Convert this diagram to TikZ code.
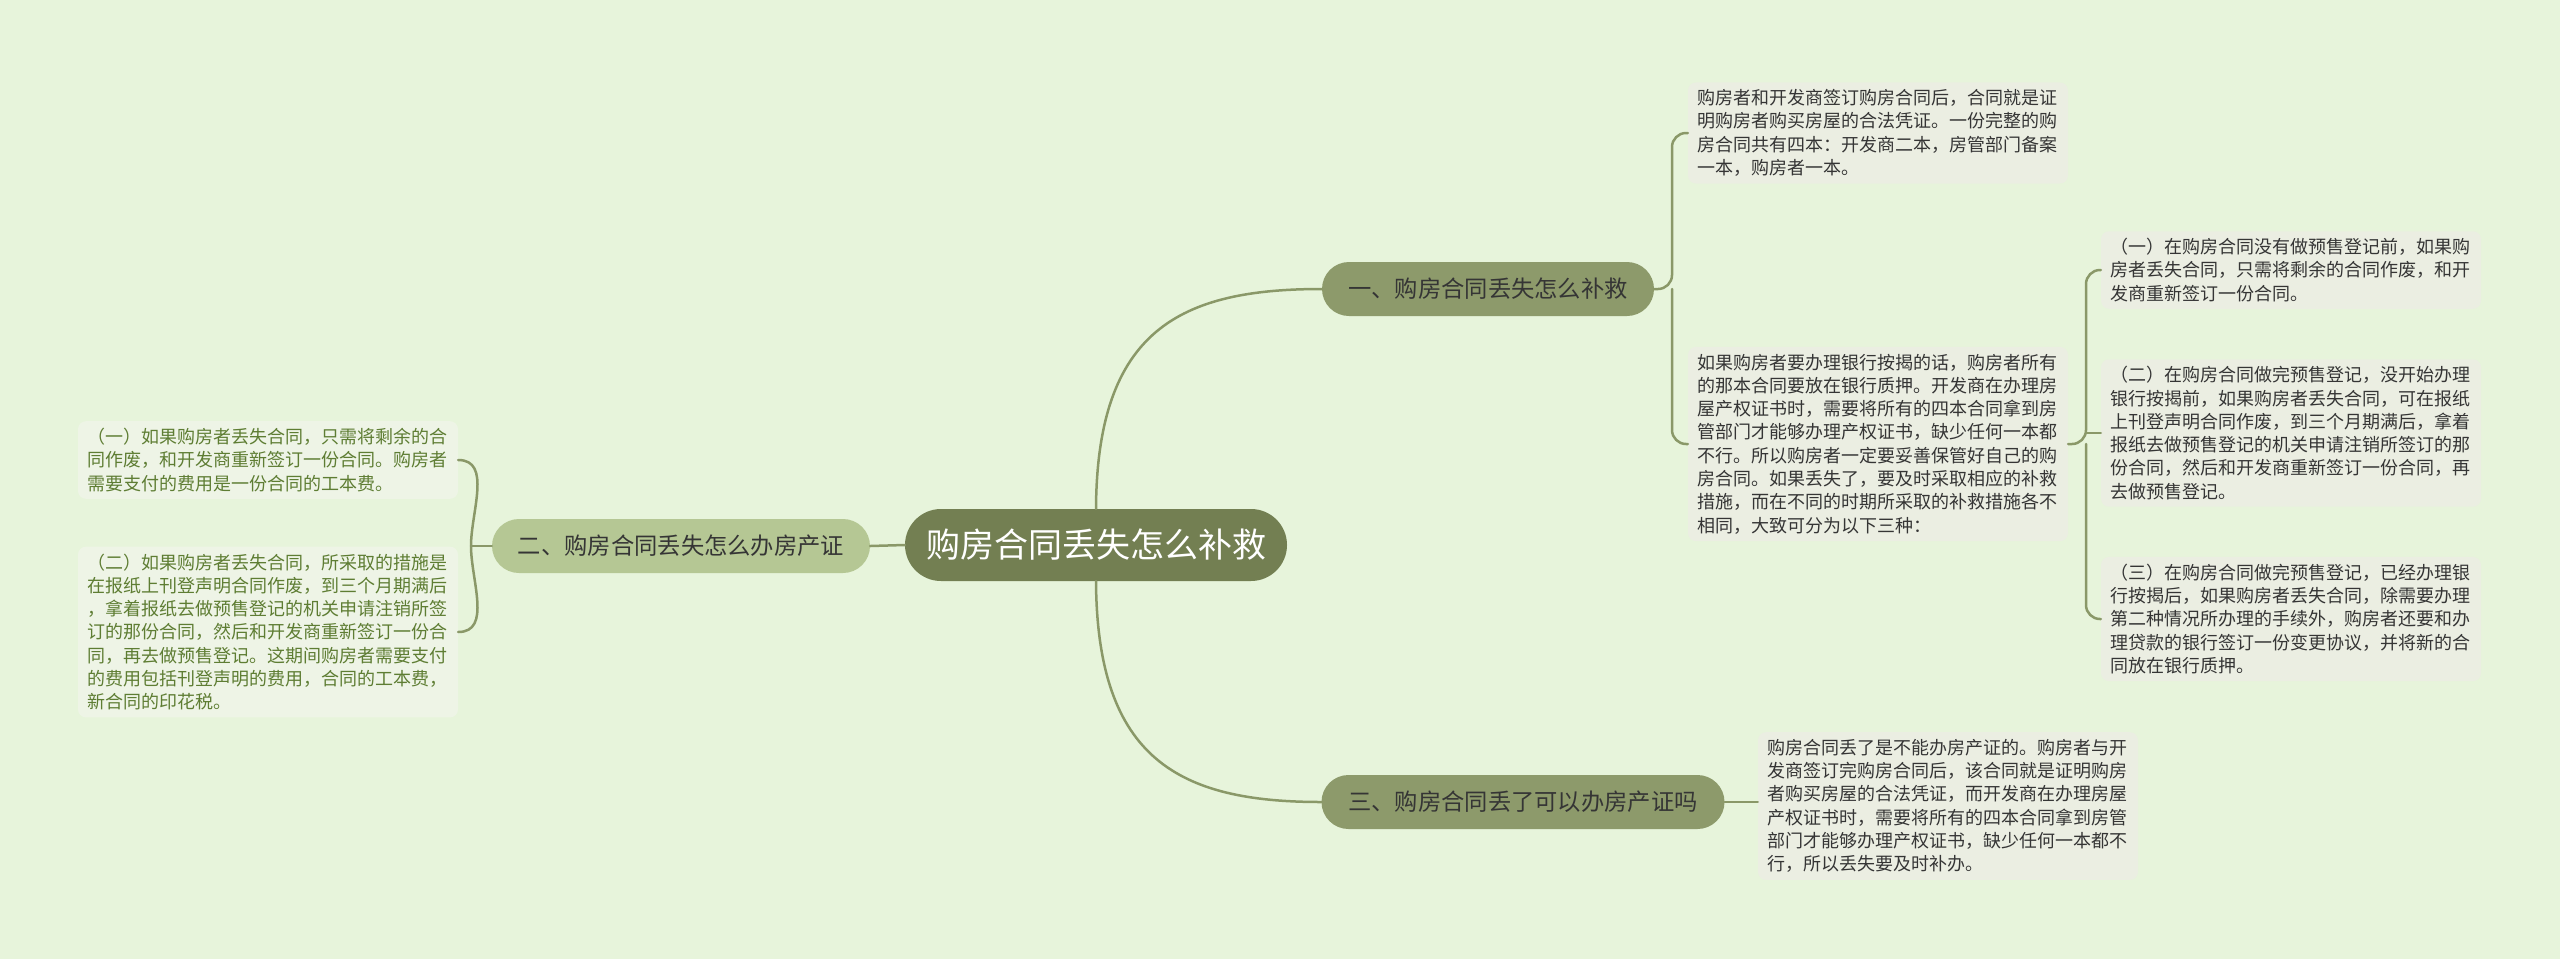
\documentclass[tikz,border=0pt]{standalone}
\usepackage{fontspec}
\setmainfont{Noto Sans CJK SC}
\definecolor{bgc}{HTML}{E7F4DB}
\definecolor{rootc}{HTML}{737F52}
\definecolor{brc}{HTML}{8D9A6B}
\definecolor{brlc}{HTML}{B5C794}
\definecolor{linec}{HTML}{8A9868}
\definecolor{leafc}{HTML}{EBEEE2}
\definecolor{leaflc}{HTML}{EEF4E6}
\definecolor{darktext}{HTML}{353535}
\definecolor{greentext}{HTML}{5E7D33}
\tikzset{
  rootbox/.style={fill=rootc, rounded corners=36pt, minimum width=382pt, minimum height=72pt, text=white, font=\fontsize{34pt}{40pt}\selectfont, inner sep=0pt},
  branchbox/.style={fill=brc, rounded corners=27pt, minimum height=54pt, text=darktext, font=\fontsize{23.3pt}{28pt}\selectfont, inner sep=0pt},
  leafbox/.style={fill=leafc, rounded corners=8pt, text width=362pt, align=left, inner xsep=9pt, inner ysep=7pt, font=\fontsize{18pt}{23.3pt}\selectfont, text=darktext},
  leftleaf/.style={leafbox, fill=leaflc, text=greentext},
  conn/.style={draw=linec, line width=2.5pt, line cap=round},
}
\begin{document}
\begin{tikzpicture}[x=1pt,y=-1pt]
\useasboundingbox (0,0) rectangle (2560,959);
\fill[bgc] (0,0) rectangle (2560,959);

\node[rootbox] (root) at (1096,545) {购房合同丢失怎么补救};
\node[branchbox, minimum width=332pt] (b1) at (1488,289) {一、购房合同丢失怎么补救};
\node[branchbox, minimum width=378pt, fill=brlc] (b2) at (681,546) {二、购房合同丢失怎么办房产证};
\node[branchbox, minimum width=403pt] (b3) at (1523,802) {三、购房合同丢了可以办房产证吗};

\node[leafbox] (la) at (1878,133) {购房者和开发商签订购房合同后，合同就是证\\明购房者购买房屋的合法凭证。一份完整的购\\房合同共有四本：开发商二本，房管部门备案\\一本，购房者一本。};
\node[leafbox] (lb) at (1878,444) {如果购房者要办理银行按揭的话，购房者所有\\的那本合同要放在银行质押。开发商在办理房\\屋产权证书时，需要将所有的四本合同拿到房\\管部门才能够办理产权证书，缺少任何一本都\\不行。所以购房者一定要妥善保管好自己的购\\房合同。如果丢失了，要及时采取相应的补救\\措施，而在不同的时期所采取的补救措施各不\\相同，大致可分为以下三种：};
\node[leafbox] (c1) at (2291,270) {（一）在购房合同没有做预售登记前，如果购\\房者丢失合同，只需将剩余的合同作废，和开\\发商重新签订一份合同。};
\node[leafbox] (c2) at (2291,433) {（二）在购房合同做完预售登记，没开始办理\\银行按揭前，如果购房者丢失合同，可在报纸\\上刊登声明合同作废，到三个月期满后，拿着\\报纸去做预售登记的机关申请注销所签订的那\\份合同，然后和开发商重新签订一份合同，再\\去做预售登记。};
\node[leafbox] (c3) at (2291,619) {（三）在购房合同做完预售登记，已经办理银\\行按揭后，如果购房者丢失合同，除需要办理\\第二种情况所办理的手续外，购房者还要和办\\理贷款的银行签订一份变更协议，并将新的合\\同放在银行质押。};
\node[leafbox] (ld) at (1948,806) {购房合同丢了是不能办房产证的。购房者与开\\发商签订完购房合同后，该合同就是证明购房\\者购买房屋的合法凭证，而开发商在办理房屋\\产权证书时，需要将所有的四本合同拿到房管\\部门才能够办理产权证书，缺少任何一本都不\\行，所以丢失要及时补办。};
\node[leftleaf] (l1) at (268,460) {（一）如果购房者丢失合同，只需将剩余的合\\同作废，和开发商重新签订一份合同。购房者\\需要支付的费用是一份合同的工本费。};
\node[leftleaf] (l2) at (268,632) {（二）如果购房者丢失合同，所采取的措施是\\在报纸上刊登声明合同作废，到三个月期满后\\，拿着报纸去做预售登记的机关申请注销所签\\订的那份合同，然后和开发商重新签订一份合\\同，再去做预售登记。这期间购房者需要支付\\的费用包括刊登声明的费用，合同的工本费，\\新合同的印花税。};

% root connectors
\draw[conn] (root.north) .. controls (1097,330) and (1180,289) .. (b1.west);
\draw[conn] (root.south) .. controls (1097,760) and (1180,802) .. (b3.west);
\draw[conn] (root.west) -- (b2.east);

% branch 1 bracket
\coordinate (k1) at (1672,289);
\draw[conn, rounded corners=14pt] (b1.east) -- (k1) |- (la.west);
\draw[conn, rounded corners=14pt] (k1) |- (lb.west);
% leaf b bracket
\coordinate (k2) at (2086,444);
\draw[conn, rounded corners=14pt] (lb.east) -- (k2) |- (c1.west);
\draw[conn, rounded corners=14pt] (k2) |- (c3.west);
\draw[conn] (k2 |- c2.west) -- (c2.west);
% branch 3
\draw[conn] (b3.east) -- (b3.east -| ld.west);
% branch 2 bracket
\coordinate (k3) at (471,546);
\draw[conn] (b2.west) -- (k3);
\draw[conn] (k3) to[out=90,in=0] (l1.east);
\draw[conn] (k3) to[out=-90,in=0] (l2.east);
\end{tikzpicture}
\end{document}
